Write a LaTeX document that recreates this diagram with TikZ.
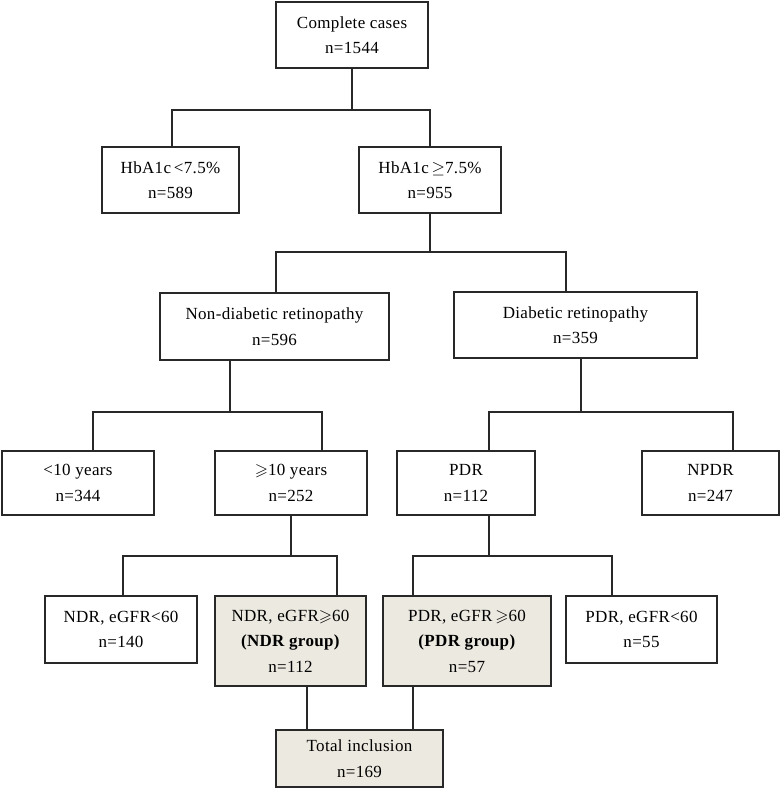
\documentclass[tikz,border=0pt]{standalone}
\usepackage{amssymb}
\usepackage{fontspec}
\setmainfont[LetterSpace=2]{Liberation Serif}
\usetikzlibrary{positioning}
\definecolor{groupfill}{RGB}{236,233,224}
\definecolor{linegray}{RGB}{40,40,40}
\begin{document}
\begin{tikzpicture}[x=1pt, y=-1pt, every node/.style={font=\fontsize{17}{25.5}\selectfont}, box/.style={draw=linegray,line width=1.3pt,align=center,inner sep=0pt,fill=white}, group/.style={box,fill=groupfill}, link/.style={draw=linegray,line width=1.3pt}]
\useasboundingbox (0,0) rectangle (781,798);
\node[box, minimum width=152pt, minimum height=66pt] (cases) at (352,35) {Complete cases\\n=1544};
\node[box, minimum width=137pt, minimum height=66pt] (low) at (170.5,180) {HbA1c\,<7.5\%\\n=589};
\node[box, minimum width=142pt, minimum height=66pt] (high) at (430,180) {HbA1c\,$\geq$7.5\%\\n=955};
\node[box, minimum width=229pt, minimum height=67pt] (ndr) at (274.5,326.5) {Non-diabetic retinopathy\\n=596};
\node[box, minimum width=243pt, minimum height=66pt] (dr) at (575.5,325) {Diabetic retinopathy\\n=359};
\node[box, minimum width=152pt, minimum height=64pt] (short) at (78,483) {<10 years\\n=344};
\node[box, minimum width=152pt, minimum height=64pt] (long) at (291,483) {$\geqslant$10 years\\n=252};
\node[box, minimum width=138pt, minimum height=64pt] (pdr) at (466,483) {PDR\\n=112};
\node[box, minimum width=137pt, minimum height=64pt] (npdr) at (710.5,483) {NPDR\\n=247};
\node[box, minimum width=152pt, minimum height=67pt] (ndrlow) at (121,629.5) {NDR, eGFR<60\\n=140};
\node[group, minimum width=151pt, minimum height=90pt] (ndrgroup) at (290.5,641) {NDR, eGFR$\geqslant$60\\\textbf{(NDR group)}\\n=112};
\node[group, minimum width=168pt, minimum height=90pt] (pdrgroup) at (467,641) {PDR, eGFR\,$\geqslant$60\\\textbf{(PDR group)}\\n=57};
\node[box, minimum width=151pt, minimum height=67pt] (pdrlow) at (641.5,629.5) {PDR, eGFR<60\\n=55};
\node[group, minimum width=167pt, minimum height=57pt] (total) at (359.5,758.5) {Total inclusion\\n=169};
% elbow connectors
\draw[link] (cases.south) -- (cases.south |- 0,110) -| ([xshift=1.5pt]low.north);
\draw[link] (cases.south |- 0,110) -| (high.north);
\draw[link] (high.south) -- (high.south |- 0,252) -| ([xshift=1.5pt]ndr.north);
\draw[link] (high.south |- 0,252) -| ([xshift=-9.5pt]dr.north);
\draw[link] ([xshift=-44.5pt]ndr.south) -- ([xshift=-44.5pt]ndr.south |- 0,412) -| ([xshift=15pt]short.north);
\draw[link] ([xshift=-44.5pt]ndr.south |- 0,412) -| ([xshift=31pt]long.north);
\draw[link] ([xshift=5.5pt]dr.south) -- ([xshift=5.5pt]dr.south |- 0,412) -| ([xshift=23pt]pdr.north);
\draw[link] ([xshift=5.5pt]dr.south |- 0,412) -| ([xshift=22.5pt]npdr.north);
\draw[link] (long.south) -- (long.south |- 0,556) -| ([xshift=2pt]ndrlow.north);
\draw[link] (long.south |- 0,556) -| ([xshift=46.5pt]ndrgroup.north);
\draw[link] ([xshift=23pt]pdr.south) -- ([xshift=23pt]pdr.south |- 0,556) -| ([xshift=-54pt]pdrgroup.north);
\draw[link] ([xshift=23pt]pdr.south |- 0,556) -| ([xshift=-29.5pt]pdrlow.north);
\draw[link] ([xshift=16.5pt]ndrgroup.south) -- ([xshift=16.5pt]ndrgroup.south |- total.north);
\draw[link] ([xshift=-54pt]pdrgroup.south) -- ([xshift=-54pt]pdrgroup.south |- total.north);
\end{tikzpicture}
\end{document}
